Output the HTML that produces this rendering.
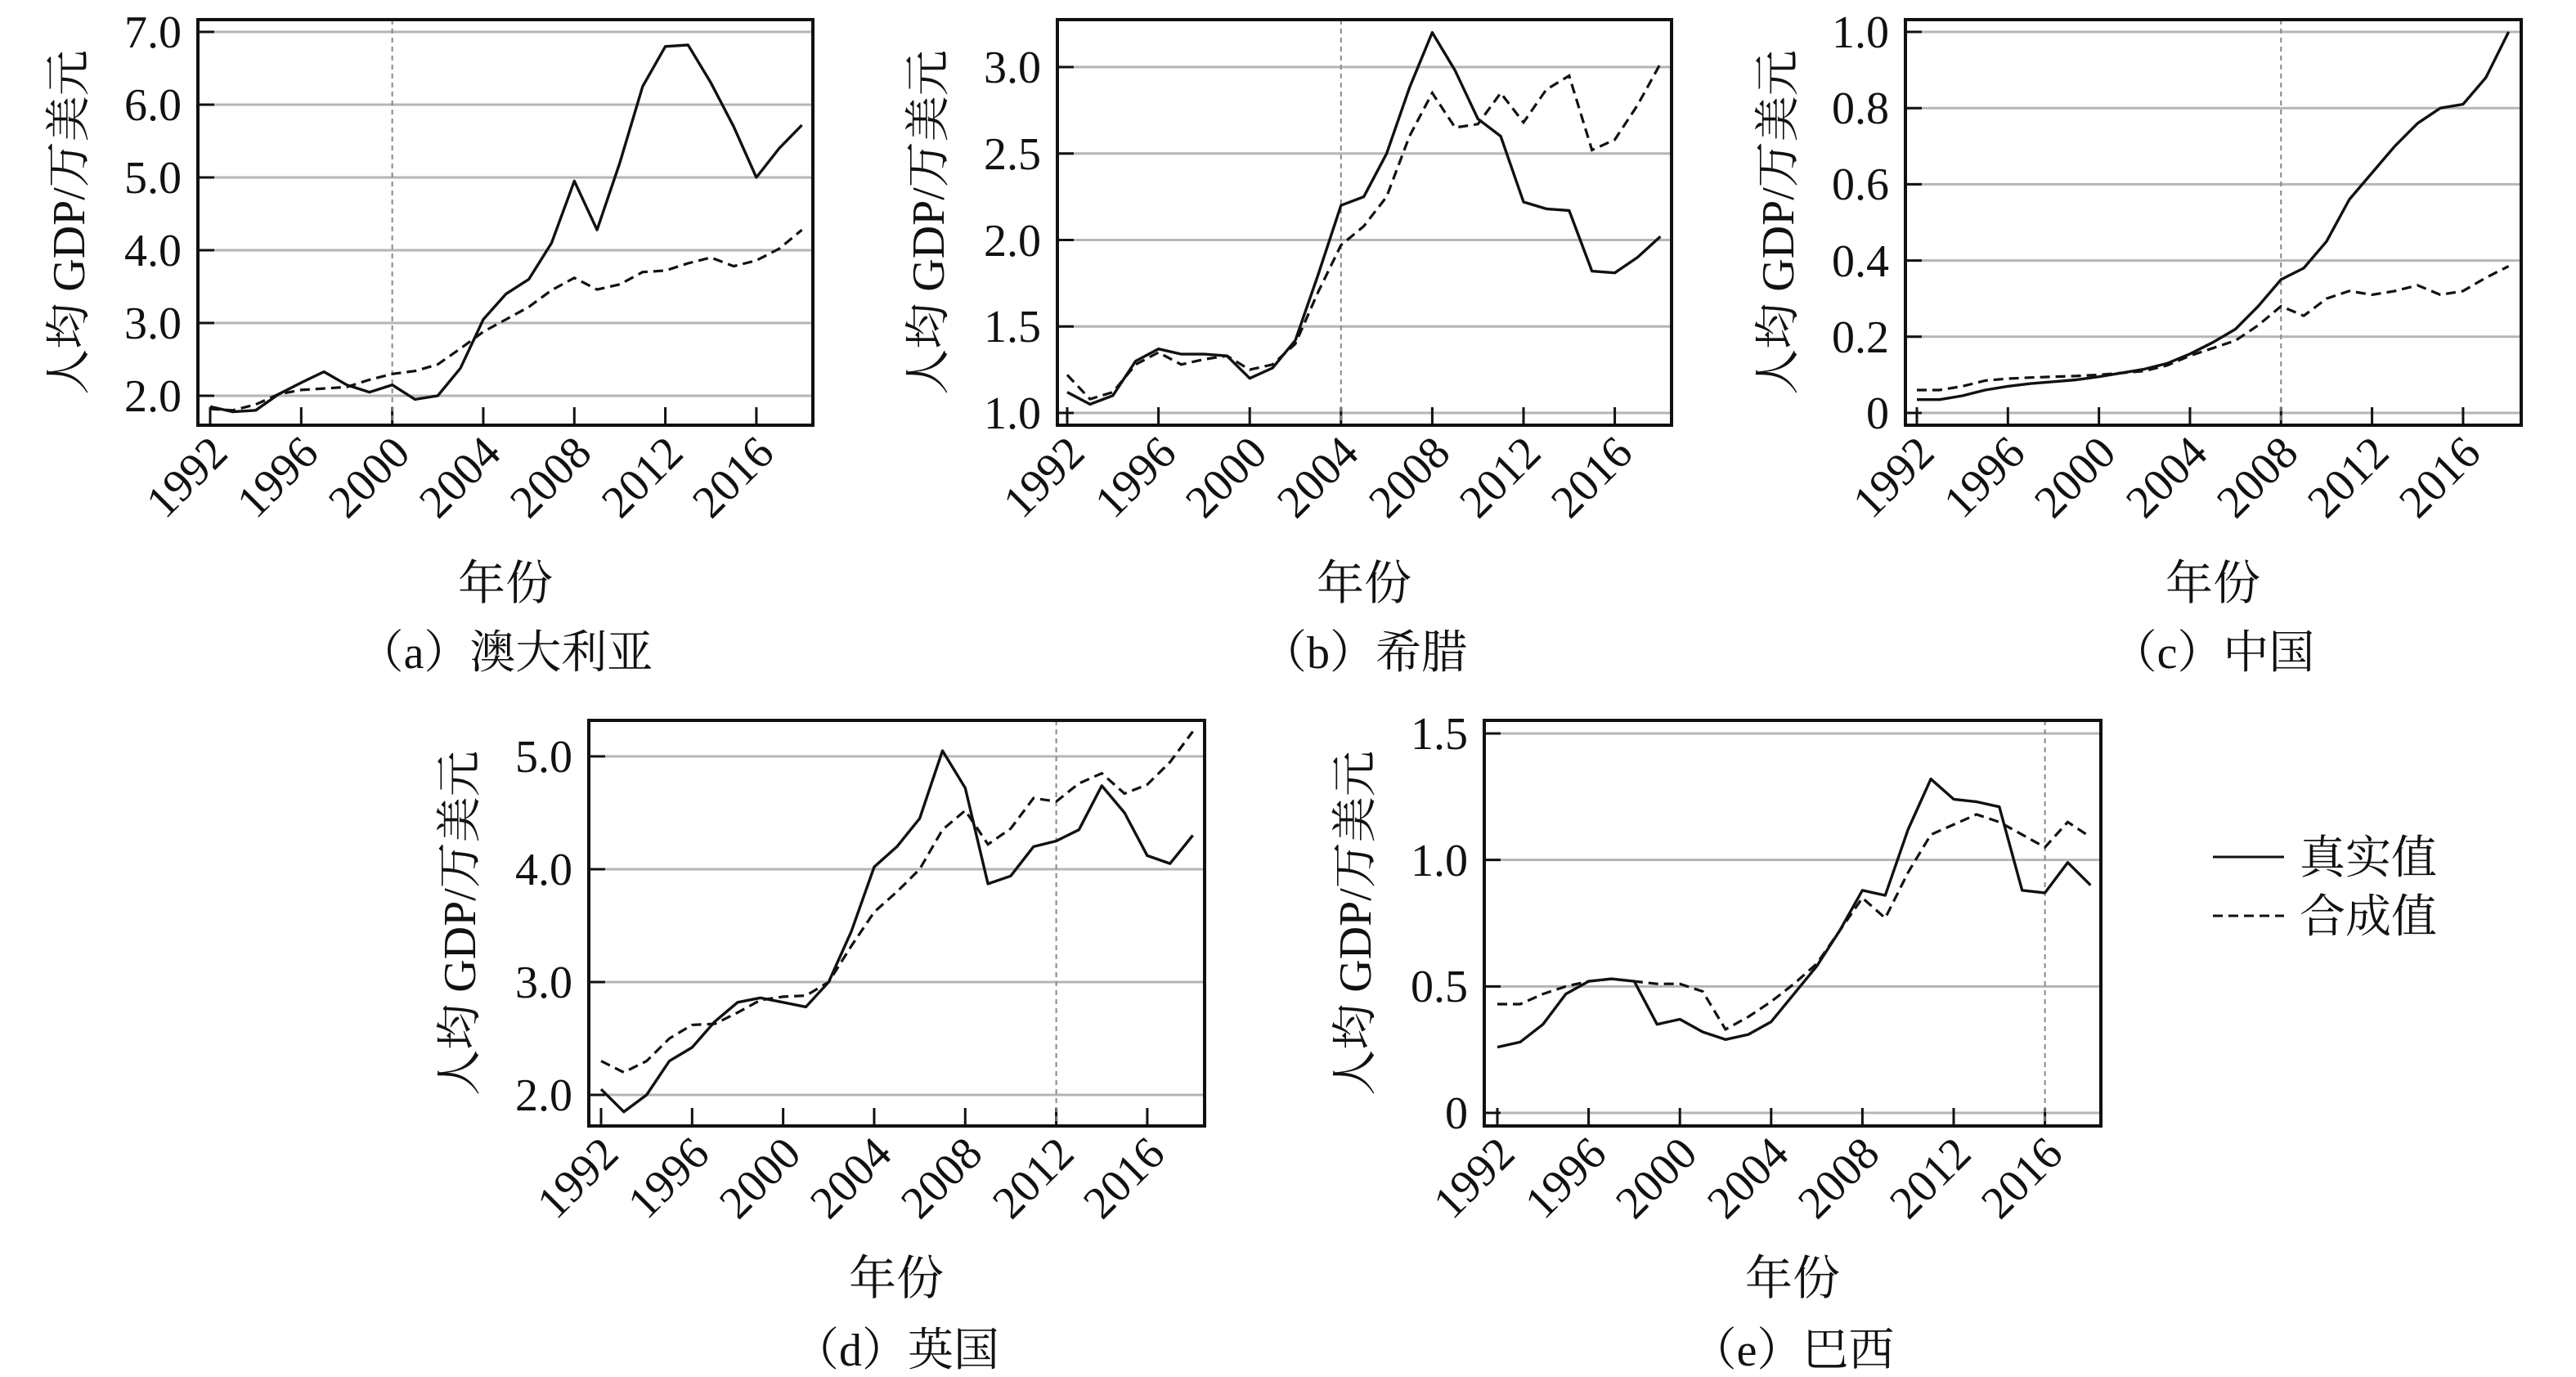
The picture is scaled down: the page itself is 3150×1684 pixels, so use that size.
<!DOCTYPE html>
<html><head><meta charset="utf-8"><style>
html,body{margin:0;padding:0;background:#fff;}
svg{display:block;}
text{font-family:"Liberation Serif","Noto Serif CJK SC",serif;fill:#111;}
.tk{font-size:56px;text-anchor:end;}
.yl{font-size:56px;text-anchor:middle;}
.xl{font-size:58px;text-anchor:middle;}
.cp{font-size:56px;text-anchor:middle;}
</style></head><body>
<svg id="s" width="3150" height="1684" viewBox="0 0 3150 1684" xmlns="http://www.w3.org/2000/svg">
<g id="g"></g>
<!-- panel a -->
<g class="tk"><text x="222" y="503">2.0</text><text x="222" y="414">3.0</text><text x="222" y="325">4.0</text><text x="222" y="236">5.0</text><text x="222" y="147">6.0</text><text x="222" y="58">7.0</text></g>
<g class="tk">
<text transform="translate(281,557) rotate(-45)">1992</text><text transform="translate(392,557) rotate(-45)">1996</text><text transform="translate(504,557) rotate(-45)">2000</text><text transform="translate(615,557) rotate(-45)">2004</text><text transform="translate(726,557) rotate(-45)">2008</text><text transform="translate(838,557) rotate(-45)">2012</text><text transform="translate(949,557) rotate(-45)">2016</text></g>
<text class="yl" transform="translate(90,272) rotate(-90)" dominant-baseline="middle">人均 GDP/万美元</text>
<text class="xl" x="618" y="733">年份</text>
<text class="cp" x="618" y="817">（a）澳大利亚</text>
<!-- panel b -->
<g class="tk"><text x="1273" y="524">1.0</text><text x="1273" y="418">1.5</text><text x="1273" y="313">2.0</text><text x="1273" y="207">2.5</text><text x="1273" y="101">3.0</text></g>
<g class="tk">
<text transform="translate(1329,557) rotate(-45)">1992</text><text transform="translate(1441,557) rotate(-45)">1996</text><text transform="translate(1552,557) rotate(-45)">2000</text><text transform="translate(1664,557) rotate(-45)">2004</text><text transform="translate(1776,557) rotate(-45)">2008</text><text transform="translate(1887,557) rotate(-45)">2012</text><text transform="translate(1999,557) rotate(-45)">2016</text></g>
<text class="yl" transform="translate(1141,272) rotate(-90)" dominant-baseline="middle">人均 GDP/万美元</text>
<text class="xl" x="1668" y="733">年份</text>
<text class="cp" x="1668" y="817">（b）希腊</text>
<!-- panel c -->
<g class="tk"><text x="2310" y="524">0</text><text x="2310" y="431">0.2</text><text x="2310" y="338">0.4</text><text x="2310" y="244">0.6</text><text x="2310" y="151">0.8</text><text x="2310" y="58">1.0</text></g>
<g class="tk">
<text transform="translate(2368,557) rotate(-45)">1992</text><text transform="translate(2479,557) rotate(-45)">1996</text><text transform="translate(2590,557) rotate(-45)">2000</text><text transform="translate(2702,557) rotate(-45)">2004</text><text transform="translate(2813,557) rotate(-45)">2008</text><text transform="translate(2924,557) rotate(-45)">2012</text><text transform="translate(3036,557) rotate(-45)">2016</text></g>
<text class="yl" transform="translate(2180,272) rotate(-90)" dominant-baseline="middle">人均 GDP/万美元</text>
<text class="xl" x="2706" y="733">年份</text>
<text class="cp" x="2706" y="817">（c）中国</text>
<!-- panel d -->
<g class="tk"><text x="700" y="1358">2.0</text><text x="700" y="1220">3.0</text><text x="700" y="1082">4.0</text><text x="700" y="944">5.0</text></g>
<g class="tk">
<text transform="translate(759,1414) rotate(-45)">1992</text><text transform="translate(870,1414) rotate(-45)">1996</text><text transform="translate(982,1414) rotate(-45)">2000</text><text transform="translate(1093,1414) rotate(-45)">2004</text><text transform="translate(1204,1414) rotate(-45)">2008</text><text transform="translate(1316,1414) rotate(-45)">2012</text><text transform="translate(1427,1414) rotate(-45)">2016</text></g>
<text class="yl" transform="translate(568,1129) rotate(-90)" dominant-baseline="middle">人均 GDP/万美元</text>
<text class="xl" x="1096" y="1583">年份</text>
<text class="cp" x="1096" y="1670">（d）英国</text>
<!-- panel e -->
<g class="tk"><text x="1795" y="1380">0</text><text x="1795" y="1225">0.5</text><text x="1795" y="1071">1.0</text><text x="1795" y="916">1.5</text></g>
<g class="tk">
<text transform="translate(1855,1414) rotate(-45)">1992</text><text transform="translate(1967,1414) rotate(-45)">1996</text><text transform="translate(2078,1414) rotate(-45)">2000</text><text transform="translate(2190,1414) rotate(-45)">2004</text><text transform="translate(2301,1414) rotate(-45)">2008</text><text transform="translate(2413,1414) rotate(-45)">2012</text><text transform="translate(2525,1414) rotate(-45)">2016</text></g>
<text class="yl" transform="translate(1663,1129) rotate(-90)" dominant-baseline="middle">人均 GDP/万美元</text>
<text class="xl" x="2192" y="1583">年份</text>
<text class="cp" x="2192" y="1670">（e）巴西</text>
<!-- legend -->
<line x1="2706" y1="1048" x2="2793" y2="1048" stroke="#111" stroke-width="3"/>
<line x1="2706" y1="1120" x2="2793" y2="1120" stroke="#111" stroke-width="3" stroke-dasharray="12,7"/>
<text x="2812" y="1068" style="font-size:56px">真实值</text>
<text x="2812" y="1140" style="font-size:56px">合成值</text>
</svg>
<script>
var NS="http://www.w3.org/2000/svg",G=document.getElementById('g');
function el(t,a){var e=document.createElementNS(NS,t);for(var k in a)e.setAttribute(k,a[k]);G.appendChild(e);return e;}
var P=[
{L:242,R:994,T:24,B:520,x0:257,dx:27.83,v0:2,p0:484,v1:7,p1:39,ticks:[2,3,4,5,6,7],vl:2000,
r:[1.85,1.78,1.80,2.02,2.18,2.33,2.15,2.05,2.15,1.95,2.0,2.38,3.05,3.4,3.6,4.1,4.95,4.28,5.2,6.25,6.8,6.82,6.3,5.7,5.0,5.4,5.72],
s:[1.82,1.80,1.88,2.02,2.08,2.10,2.12,2.22,2.30,2.34,2.43,2.65,2.88,3.05,3.22,3.45,3.62,3.46,3.53,3.70,3.72,3.82,3.90,3.78,3.86,4.02,4.28]},
{L:1293,R:2044,T:24,B:520,x0:1305,dx:27.9,v0:1,p0:505,v1:3,p1:82,ticks:[1,1.5,2,2.5,3],vl:2004,
r:[1.12,1.05,1.10,1.30,1.37,1.34,1.34,1.33,1.20,1.26,1.42,1.80,2.20,2.25,2.50,2.88,3.20,2.98,2.70,2.60,2.22,2.18,2.17,1.82,1.81,1.90,2.02],
s:[1.22,1.08,1.12,1.28,1.35,1.28,1.31,1.33,1.25,1.28,1.40,1.70,1.97,2.08,2.25,2.60,2.85,2.65,2.67,2.85,2.68,2.87,2.95,2.52,2.58,2.78,3.02]},
{L:2330,R:3083,T:24,B:520,x0:2344,dx:27.83,v0:0,p0:505,v1:1,p1:39,ticks:[0,.2,.4,.6,.8,1],vl:2008,
r:[.035,.035,.045,.06,.07,.077,.082,.087,.095,.105,.115,.13,.155,.185,.22,.28,.35,.38,.45,.56,.63,.70,.76,.80,.81,.88,1.0],
s:[.06,.06,.07,.085,.09,.093,.095,.097,.1,.105,.11,.125,.15,.17,.19,.23,.28,.255,.30,.32,.31,.32,.335,.31,.32,.355,.385]},
{L:720,R:1473,T:881,B:1377,x0:735,dx:27.83,v0:2,p0:1339,v1:5,p1:925,ticks:[2,3,4,5],vl:2012,
r:[2.05,1.85,2.0,2.3,2.42,2.65,2.82,2.86,2.82,2.78,3.0,3.45,4.02,4.2,4.45,5.05,4.72,3.87,3.94,4.2,4.25,4.35,4.74,4.5,4.12,4.05,4.3],
s:[2.3,2.2,2.3,2.5,2.62,2.63,2.73,2.84,2.87,2.88,3.0,3.32,3.62,3.8,4.0,4.35,4.52,4.22,4.36,4.63,4.6,4.76,4.85,4.67,4.75,4.95,5.22]},
{L:1815,R:2569,T:881,B:1377,x0:1831,dx:27.9,v0:0,p0:1361,v1:1.5,p1:897,ticks:[0,.5,1,1.5],vl:2016,
r:[.26,.28,.35,.47,.52,.53,.52,.35,.37,.32,.29,.31,.36,.47,.58,.72,.88,.86,1.12,1.32,1.24,1.23,1.21,.88,.87,.99,.90],
s:[.43,.43,.47,.50,.52,.53,.52,.51,.51,.48,.33,.38,.44,.51,.59,.72,.85,.77,.95,1.10,1.14,1.18,1.15,1.10,1.05,1.15,1.09]}
];
P.forEach(function(p){
 function Y(v){return p.p0+(v-p.v0)*(p.p1-p.p0)/(p.v1-p.v0);}
 function X(yr){return p.x0+(yr-1992)*p.dx;}
 p.ticks.forEach(function(t){var y=Y(t);
  el('line',{x1:p.L,x2:p.R,y1:y,y2:y,stroke:'#b5b5b5','stroke-width':3});
  el('line',{x1:p.L,x2:p.L+20,y1:y,y2:y,stroke:'#111','stroke-width':3});});
 for(var yr=1992;yr<=2016;yr+=4){var x=X(yr);el('line',{x1:x,x2:x,y1:p.B,y2:p.B-22,stroke:'#111','stroke-width':3});}
 var vx=X(p.vl);el('line',{x1:vx,x2:vx,y1:p.T,y2:p.B,stroke:'#888','stroke-width':2,'stroke-dasharray':'6,5'});
 function pts(a){return a.map(function(v,i){return X(1992+i).toFixed(1)+','+Y(v).toFixed(1);}).join(' ');}
 el('polyline',{points:pts(p.s),fill:'none',stroke:'#111','stroke-width':3.2,'stroke-dasharray':'12,7'});
 el('polyline',{points:pts(p.r),fill:'none',stroke:'#111','stroke-width':3.4,'stroke-linejoin':'round'});
 el('rect',{x:p.L,y:p.T,width:p.R-p.L,height:p.B-p.T,fill:'none',stroke:'#111','stroke-width':4});
});
</script>
</body></html>
